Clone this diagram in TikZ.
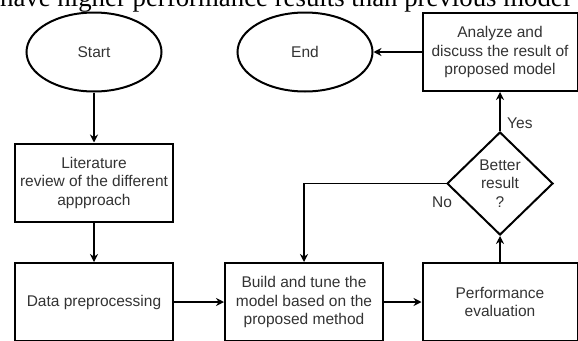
\documentclass[tikz,border=0pt]{standalone}
\usepackage{fontspec}
\setmainfont{Liberation Serif}
\setsansfont{Liberation Sans}
\usetikzlibrary{shapes.geometric,arrows.meta}

\tikzset{
  chart/.style={text=black!80, font=\sffamily\fontsize{15.5}{18.5}\selectfont, align=center},
  box/.style={chart, draw, line width=2pt, rectangle, minimum width=158pt, minimum height=78pt, inner sep=0pt},
  oval/.style={chart, draw, line width=2pt, ellipse, minimum width=135pt, minimum height=79pt},
  decision/.style={chart, draw, line width=2pt, diamond, minimum width=106pt, minimum height=103pt, inner sep=0pt},
  flow/.style={line width=1.2pt, -{Stealth[length=8pt,width=8pt]}}
}

\begin{document}
\begin{tikzpicture}[x=1pt,y=-1pt]
\useasboundingbox (0,0) rectangle (578,340);
\clip (0,0) rectangle (578,340);
\node [anchor=base west, inner sep=0pt, font=\fontsize{26.8}{30}\selectfont] (line) at (0,6) {have higher performance results than previous model};
\node [oval] (start) at (94,52) {Start};
\node [oval] (finish) at (305,52) {End};
\node [box, minimum width=155pt] (analyze) at (500,52) {Analyze and\\discuss the result of\\proposed model};
\node [box] (review) at (94,182.5) {Literature\\review of the different\\appproach};
\node [box] (prep) at (94,302) {Data preprocessing};
\node [box] (build) at (304,302) {Build and tune the\\model based on the\\proposed method};
\node [box, minimum width=155pt] (perf) at (500,302) {Performance\\evaluation};
\node [decision] (better) at (500,183.5) {Better\\result\\?};
\foreach \a/\b in {start/review, review/prep, prep/build, build/perf, perf/better, better/analyze, analyze/finish}
  \draw [flow] (\a) -- (\b);
\draw [flow] (better.west) -| (build.north);
\node [chart, anchor=west, inner sep=0pt] (yes) at (507,123) {Yes};
\node [chart, inner sep=0pt] (no) at (442,202) {No};
\end{tikzpicture}
\end{document}
